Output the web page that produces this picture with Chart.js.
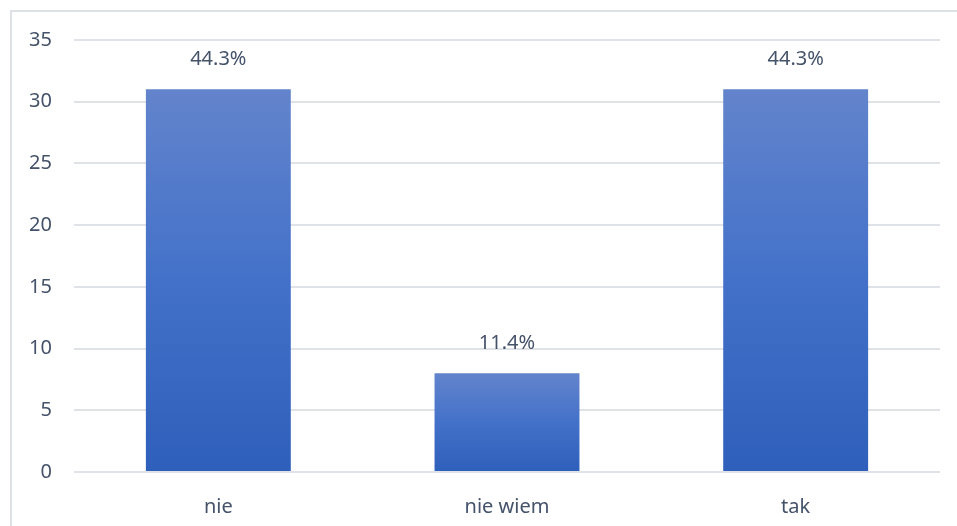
<!DOCTYPE html>
<html>
<head>
<meta charset="utf-8">
<script src="https://cdn.jsdelivr.net/npm/chart.js@4"></script>
<style>
  html, body { margin: 0; padding: 0; background: #fff; }
  #wrap { width: 957px; height: 526px; position: relative; }
</style>
</head>
<body>
<div id="wrap"><canvas id="chart" width="957" height="526"></canvas></div>
<script>
const d = document;

// dane
const categories = ['nie', 'nie wiem', 'tak'];
const counts = [31, 8, 31];
const yTicks = [0, 5, 10, 15, 20, 25, 30, 35];

const total = counts.reduce((a, b) => a + b, 0);
const textColor = '#44526a';
const gridColor = '#dfe2e7';
const font = { family: "'Noto Sans', 'Open Sans', sans-serif", size: 20 };

// gradient od wierzchołka słupka do osi
function barFill(ctx) {
    const chart = ctx.chart;
    const area = chart.chartArea;
    if (!area || ctx.type !== 'data') return '#4472c4';
    const yScale = chart.scales.y;
    const top = yScale.getPixelForValue(ctx.raw);
    const base = yScale.getPixelForValue(0);
    const g = chart.ctx.createLinearGradient(0, top, 0, base);
    g.addColorStop(0, '#6384cc');
    g.addColorStop(0.5, '#4371c9');
    g.addColorStop(1, '#2e5fba');
    return g;
}

// ramka wykresu
const framePlugin = {
    id: 'frame',
    beforeDraw(chart) {
        const c = chart.ctx;
        c.save();
        c.strokeStyle = '#dde1e6';
        c.lineWidth = 2;
        c.strokeRect(11, 11, 1000, 1000);
        c.restore();
    }
};

// etykiety procentowe nad słupkami
const pctPlugin = {
    id: 'pct',
    afterDatasetsDraw(chart) {
        const c = chart.ctx;
        const meta = chart.getDatasetMeta(0);
        c.save();
        c.fillStyle = textColor;
        c.font = font.size + 'px ' + font.family;
        c.textAlign = 'center';
        c.textBaseline = 'middle';
        meta.data.forEach((bar, i) => {
            const pct = (counts[i] / total * 100).toFixed(1) + '%';
            c.fillText(pct, bar.x, bar.y - 30);
        });
        c.restore();
    }
};

const $chart = d.getElementById('chart').getContext('2d');

new Chart($chart, {
    type: 'bar',
    data: {
        labels: categories,
        datasets: [{
            data: counts,
            backgroundColor: barFill,
            borderWidth: 0,
            categoryPercentage: 1,
            barPercentage: 0.502
        }]
    },
    options: {
        responsive: false,
        animation: false,
        events: [],
        layout: { padding: { top: 40, right: 17, left: 0, bottom: 0 } },
        plugins: {
            legend: { display: false },
            tooltip: { enabled: false }
        },
        scales: {
            x: {
                grid: { display: false },
                border: { display: false },
                ticks: { color: textColor, font: font, padding: 15 },
                afterFit: s => { s.height = 54; }
            },
            y: {
                min: 0,
                max: 35,
                afterBuildTicks: s => { s.ticks = yTicks.map(v => ({ value: v })); },
                grid: { color: gridColor, lineWidth: 2, drawTicks: false },
                border: { display: false },
                ticks: { color: textColor, font: font, padding: 22 },
                afterFit: s => { s.width = 74; }
            }
        }
    },
    plugins: [framePlugin, pctPlugin]
});
</script>
</body>
</html>
